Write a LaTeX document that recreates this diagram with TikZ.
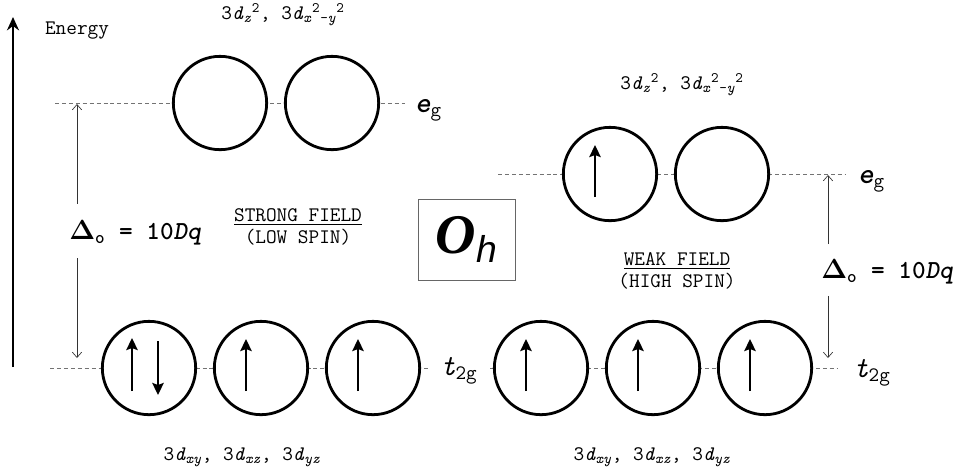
\documentclass[tikz,border=0pt]{standalone}
\usepackage{fontspec}
\newfontfamily\ohserif{Liberation Serif}
\newfontfamily\ohsans{Liberation Sans}
\usetikzlibrary{arrows.meta,positioning}
\newcommand{\dorb}[1]{3\textit{d}\textsubscript{#1}}
\newcommand{\dzz}{\dorb{\textit{z}}\textsuperscript{2}}
\newcommand{\dxy}{3\textit{d}\textsubscript{\textit{x}}\textsuperscript{2}\textsubscript{-\textit{y}}\textsuperscript{2}}

\begin{document}
\begin{tikzpicture}[x=0.75pt,y=-0.75pt,
  orb/.style={circle,draw,line width=2.1pt,fill=white,minimum size=70pt,inner sep=0pt},
  lvl/.style={draw=black!55,line width=0.6pt,dash pattern=on 3pt off 2.2pt},
  spin/.style={line width=2.1pt,-{Stealth[length=9pt,width=8.5pt,inset=1.5pt]}},
  gaparr/.style={line width=0.5pt,draw=black!80,-{Straight Barb[length=4pt,width=7pt]}},
  mono/.style={font=\ttfamily\fontsize{15.5}{16}\selectfont},
  lvlname/.style={font=\ttfamily\fontsize{22}{24}\selectfont,anchor=base west,inner sep=0pt},
  gapname/.style={font=\ttfamily\bfseries\boldmath\fontsize{19.5}{21}\selectfont,anchor=base west,inner sep=0pt},
  split/.style={mono,align=center}]
  \useasboundingbox (0,0) rectangle (960,469);
  % energy axis
  \coordinate (Ebot) at (13,367);
  \coordinate (Etop) at (13,17);
  \draw[line width=2.2pt,-{Stealth[length=10pt,width=9pt]}] (Ebot) -- (Etop);
  \node[mono] (energy) at (77,31) {Energy};
  % levels
  \coordinate (egLa) at (55,103);  \coordinate (egLb) at (405,103);
  \coordinate (tLa) at (50,368);   \coordinate (tLb) at (428,368);
  \coordinate (egRa) at (498,174); \coordinate (egRb) at (845,174);
  \coordinate (tRa) at (490,368);  \coordinate (tRb) at (838,368);
  \foreach \a/\b in {egLa/egLb, tLa/tLb, egRa/egRb, tRa/tRb}
    \draw[lvl] (\a) -- (\b);
  % orbitals
  \foreach \n/\x/\y in {LE1/220/103, LE2/332/103, LT1/149/368, LT2/261/368, LT3/373/368,
                        RE1/610/174, RE2/722/174, RT1/541/368, RT2/653/368, RT3/765/368}
    \node[orb] (\n) at (\x,\y) {};
  \foreach \n in {LT2,LT3,RE1,RT1,RT2,RT3}
    \draw[spin] ([shift={(-15,23)}]\n.center) -- ++(0,-52);
  \draw[spin] ([shift={(-17,23)}]LT1.center) -- ++(0,-53);
  \draw[spin] ([shift={(9,-27)}]LT1.center) -- ++(0,54);
  % orbital names
  \node[mono] (dzL) at (283,15) {\dzz, \dxy};
  \node[mono] (dzR) at (682,85) {\dzz, \dxy};
  \node[mono] (dxL) at (242,457) {\dorb{\textit{xy}}, \dorb{\textit{xz}}, \dorb{\textit{yz}}};
  \node[mono] (dxR) at (652,457) {\dorb{\textit{xy}}, \dorb{\textit{xz}}, \dorb{\textit{yz}}};
  \node[lvlname] (egL) at (415,112) {{\bfseries\slshape e}\textsubscript{g}};
  \node[lvlname] (tL) at (440,375) {\textit{t}\textsubscript{2g}};
  \node[lvlname] (egR) at (858,183) {{\bfseries\slshape e}\textsubscript{g}};
  \node[lvlname] (tR) at (853,377) {\textit{t}\textsubscript{2g}};
  % splitting
  \node[gapname] (dL) at (69,239) {$\Delta$\textsubscript{o} = 10{\slshape Dq}};
  \node[gapname] (dR) at (821,278) {$\Delta$\textsubscript{o} = 10{\slshape Dq}};
  \coordinate (dLup) at (77,104);  \coordinate (dLdn) at (77,358);
  \coordinate (dRup) at (828,175); \coordinate (dRdn) at (828,358);
  \draw[gaparr,shorten <=12pt] (dL.north -| dLup) -- (dLup);
  \draw[gaparr,shorten <=10pt] (dL.south -| dLdn) -- (dLdn);
  \draw[gaparr,shorten <=11pt] (dR.north -| dRup) -- (dRup);
  \draw[gaparr,shorten <=9pt] (dR.south -| dRdn) -- (dRdn);
  \node[split] (strong) at (298,227) {\underline{STRONG FIELD}\\(LOW SPIN)};
  \node[split] (weak) at (677,271) {\underline{WEAK FIELD}\\(HIGH SPIN)};
  \node[draw=black!60,line width=0.6pt,minimum width=72.75pt,minimum height=60.75pt,inner sep=0pt] (oh) at (466.5,239.5)
    {{\ohserif\bfseries\itshape\fontsize{42}{42}\selectfont O}{\ohsans\itshape\fontsize{28}{28}\selectfont\raisebox{-7pt}{h}}};
\end{tikzpicture}
\end{document}
